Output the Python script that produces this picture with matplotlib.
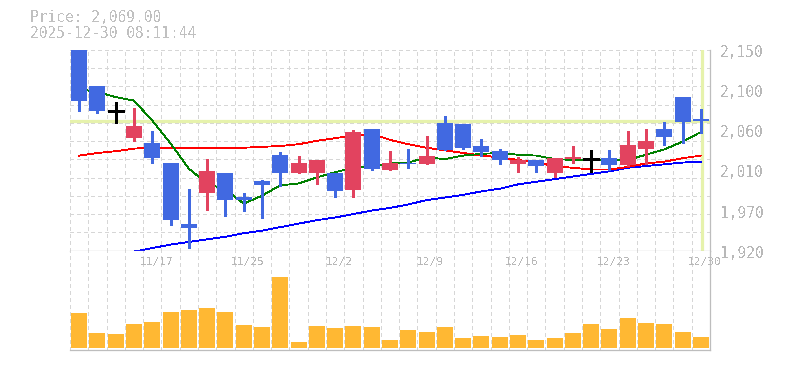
import matplotlib
matplotlib.use("Agg")
import matplotlib.pyplot as plt
import matplotlib.transforms as mtransforms
import numpy as np

# ---------------- data ----------------
dates = ['11/11', '11/12', '11/13', '11/14', '11/17', '11/18', '11/19', '11/20', '11/21',
         '11/25', '11/26', '11/27', '11/28', '12/1', '12/2', '12/3', '12/4', '12/5',
         '12/8', '12/9', '12/10', '12/11', '12/12', '12/15', '12/16', '12/17', '12/18',
         '12/19', '12/22', '12/23', '12/24', '12/25', '12/26', '12/29', '12/30']
opens = [2150, 2109, 2080, 2049, 2043, 2021, 1951, 1986, 2009, 1981, 2000, 2030, 2009,
         2009, 2009, 1989, 2060, 2013, 2021, 2019, 2066, 2065, 2040, 2034, 2019, 2024,
         2009, 2025, 2025, 2026, 2018, 2037, 2059, 2096, 2070]
closes = [2091, 2080, 2080, 2063, 2026, 1955, 1946, 2011, 1978, 1978, 1995, 2009, 2020,
          2024, 1988, 2056, 2014, 2021, 2019, 2028, 2035, 2038, 2033, 2024, 2024, 2017,
          2026, 2027, 2025, 2018, 2041, 2046, 2050, 2068, 2069]
highs = [2150, 2109, 2090, 2084, 2057, 2021, 1991, 2025, 2009, 1986, 2001, 2033, 2029,
         2024, 2009, 2058, 2060, 2034, 2036, 2052, 2074, 2065, 2048, 2037, 2027, 2024,
         2026, 2040, 2035, 2035, 2057, 2060, 2067, 2096, 2082]
lows = [2080, 2078, 2066, 2046, 2020, 1950, 1923, 1967, 1960, 1965, 1957, 1994, 2009,
        1996, 1981, 1981, 2013, 2013, 2015, 2019, 2035, 2036, 2029, 2019, 2010, 2010,
        2004, 2020, 2010, 2013, 2017, 2019, 2041, 2043, 2055]
ma5 = [2105, 2102, 2096, 2092, 2069, 2043, 2014, 1997, 1990, 1974, 1983, 1995, 1997,
       2004, 2010, 2015, 2017, 2020, 2021, 2027, 2025, 2029, 2031, 2032, 2030, 2029,
       2025, 2024, 2024, 2024, 2024, 2030, 2036, 2045, 2056]
ma25 = [2029, 2032, 2034, 2037, 2038, 2038, 2038, 2038, 2038, 2038, 2039, 2040, 2042,
        2046, 2049, 2052, 2054, 2047, 2042, 2038, 2035, 2032, 2029, 2027, 2024, 2021,
        2017, 2015, 2013, 2013, 2016, 2020, 2022, 2026, 2029]
ma75 = [1909, 1913, 1916, 1919, 1923, 1927, 1930, 1933, 1936, 1940, 1943, 1947, 1951,
        1955, 1958, 1962, 1966, 1969, 1973, 1978, 1981, 1984, 1988, 1991, 1996, 1999,
        2002, 2005, 2008, 2011, 2015, 2017, 2019, 2021, 2022]
volume = [35, 15, 14, 24, 26, 36, 38, 40, 36, 23, 21, 71, 6, 22, 20, 22, 21, 8, 18, 16,
          21, 10, 12, 11, 13, 8, 10, 15, 24, 19, 30, 25, 24, 16, 11]
label_dates = ['11/17', '11/25', '12/2', '12/9', '12/16', '12/23', '12/30']
ytick_labels = ['1,920', '1,970', '2,010', '2,060', '2,100', '2,150']
last_price = 2069
title_lines = ['Price: 2,069.00', '2025-12-30 08:11:44']

# ---------------- style ----------------
UP = '#e2435f'
DOWN = '#4169e1'
DOJI = '#000000'
GRID = '#d6d6d6'
SPINE = '#bdbdbd'
TXT = '#b8b8b8'
HL = '#e6f2ac'
VOL = '#ffb833'
plt.rcParams['font.family'] = ['DejaVu Sans Mono']
plt.rcParams['text.antialiased'] = False

W, H = 785, 370
fig = plt.figure(figsize=(W / 100, H / 100), dpi=100)
L, R = 70, 710
ax = fig.add_axes([L / W, (H - 250.7) / H, (R - L) / W, 200.7 / H])
axv = fig.add_axes([L / W, (H - 350) / H, (R - L) / W, 99.3 / H])

n = len(dates)
x = np.arange(n)
ymin, ymax = 1920, 2150

for a in (ax, axv):
    a.set_xlim(-0.5, n - 0.5)
    for s in ('top', 'left'):
        a.spines[s].set_visible(False)
    for s in ('bottom', 'right'):
        a.spines[s].set_color(SPINE)
        a.spines[s].set_linewidth(0.9)
    a.set_xticks([])
    a.set_yticks([])
    for b in np.arange(-0.5, n, 1.0):
        a.axvline(b, color=GRID, lw=0.75, ls=(0, (3, 3)), zorder=0, antialiased=False)

ax.set_ylim(ymin, ymax)
for yy in np.linspace(ymin, ymax, 12):
    ax.axhline(yy, color=GRID, lw=0.75, ls=(0, (3, 3)), zorder=0, antialiased=False)

# highlight crosshair
ax.axhline(last_price, color=HL, lw=2.3, zorder=1)
ax.axvline(n - 1 + 0.08, color=HL, lw=2.3, zorder=1)

# candles
bw = 0.875
for i in range(n):
    o, c, h, l = opens[i], closes[i], highs[i], lows[i]
    col = UP if c > o else (DOWN if c < o else DOJI)
    ax.plot([i, i], [l, h], color=col, lw=0.75, zorder=3, antialiased=False,
            solid_capstyle='butt', snap=True)
    if c == o:
        ax.plot([i - bw / 2, i + bw / 2], [o, o], color=col, lw=0.75, zorder=4,
                antialiased=False, solid_capstyle='butt', snap=True)
    else:
        lo = min(o, c)
        hgt = max(abs(c - o), 1.6)
        ax.bar(i, hgt, bottom=lo, width=bw, color=col, zorder=4, linewidth=0,
               antialiased=False)

# moving averages
ax.plot(x, ma75, color='#0000ff', lw=0.6, zorder=2, antialiased=False)
ax.plot(x, ma25, color='#ff0000', lw=0.6, zorder=2, antialiased=False)
ax.plot(x, ma5, color='#008000', lw=0.6, zorder=2, antialiased=False)

# y labels on the right
ytick_pos = np.linspace(ymin, ymax, len(ytick_labels))
off = mtransforms.ScaledTranslation(10 / 100, -2.5 / 100, fig.dpi_scale_trans)
tr = mtransforms.blended_transform_factory(ax.transAxes, ax.transData) + off
for yp, lab in zip(ytick_pos, ytick_labels):
    ax.text(1.0, yp, lab, transform=tr, ha='left', va='center', color=TXT,
            fontsize=10.5, clip_on=False)

# volume
axv.bar(x, volume, width=bw, color=VOL, zorder=2, linewidth=0, antialiased=False)
axv.set_ylim(-2.3, 97)

# date labels
trd = mtransforms.blended_transform_factory(axv.transData, axv.transAxes) + \
    mtransforms.ScaledTranslation(4 / 100, 0, fig.dpi_scale_trans)
for lab in label_dates:
    i = dates.index(lab)
    axv.text(i, 0.89, lab, transform=trd, ha='center', va='center', color=TXT,
             fontsize=8, zorder=5, clip_on=False)

# header
fig.text(30 / W, 1 - 18 / H, title_lines[0], ha='left', va='center', color='#c0c0c0',
         fontsize=10.5)
fig.text(30 / W, 1 - 33 / H, title_lines[1], ha='left', va='center', color='#c0c0c0',
         fontsize=10.5)

fig.savefig('out.png', dpi=100)
